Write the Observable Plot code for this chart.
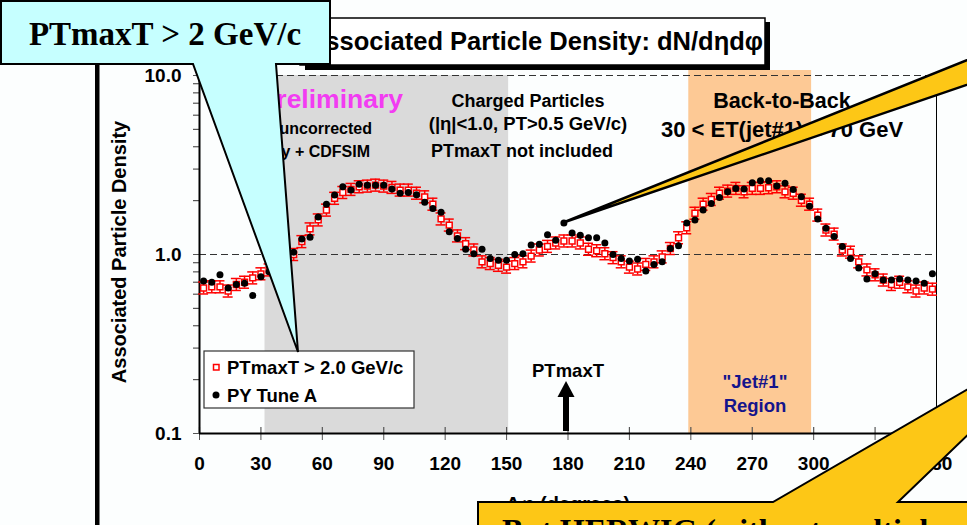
<!DOCTYPE html>
<html><head><meta charset="utf-8">
<script src="https://cdn.jsdelivr.net/npm/d3@7"></script>
<script src="https://cdn.jsdelivr.net/npm/@observablehq/plot@0.6"></script>
<style>
html,body{margin:0;padding:0;background:#fcfefe;overflow:hidden;}
#chart{position:relative;width:967px;height:525px;overflow:hidden;}
svg{display:block}
</style></head><body><div id="chart"></div>
<script>
// ---- data ----
const phi = [2,6,10,14,18,22,26,30,34,38,42,46,50,54,58,62,66,70,74,78,82,86,90,94,98,102,106,110,114,118,
  122,126,130,134,138,142,146,150,154,158,162,166,170,174,178,182,186,190,194,198,202,206,210,214,218,222,226,230,234,238,
  242,246,250,254,258,262,266,270,274,278,282,286,290,294,298,302,306,310,314,318,322,326,330,334,338,342,346,350,354,358];
const ptmaxData = [0.65,0.66,0.66,0.625,0.68,0.70,0.74,0.78,0.82,0.88,
  0.94,1.00,1.18,1.39,1.56,1.77,2.06,2.22,2.31,2.39,
  2.41,2.44,2.41,2.37,2.29,2.29,2.20,2.10,1.91,1.58,
  1.46,1.27,1.15,1.06,0.91,0.89,0.87,0.85,0.89,0.91,
  0.98,1.06,1.11,1.16,1.19,1.19,1.16,1.07,1.05,1.01,
  0.96,0.91,0.85,0.83,0.88,0.91,0.97,1.08,1.24,1.41,
  1.70,1.91,2.03,2.20,2.26,2.34,2.24,2.34,2.34,2.36,
  2.39,2.24,2.20,2.01,1.91,1.66,1.37,1.30,1.06,1.03,
  0.91,0.82,0.77,0.72,0.68,0.70,0.66,0.625,0.65,0.64];
const pyTuneA = [0.71,0.70,0.77,0.65,0.68,0.69,0.59,0.75,0.80,0.86,
  0.93,1.03,1.22,1.25,1.62,1.91,2.15,2.39,2.29,2.47,
  2.44,2.44,2.44,2.32,2.20,2.22,2.16,1.96,1.81,1.72,
  1.34,1.23,1.07,1.01,1.07,0.95,0.93,0.93,1.00,1.01,
  1.13,1.14,1.29,1.20,1.50,1.32,1.28,1.24,1.24,1.16,
  1.00,0.95,0.92,0.94,0.81,0.88,0.91,1.08,1.12,1.50,
  1.56,1.77,1.93,2.08,2.24,2.34,2.32,2.52,2.58,2.58,
  2.41,2.50,2.31,2.10,1.86,1.58,1.40,1.26,1.11,0.95,
  0.84,0.73,0.78,0.72,0.72,0.73,0.72,0.71,0.69,0.78];
const relErr = 0.08;
const xTicks = [0,30,60,90,120,150,180,210,240,270,300,330,360];
const yTicks = [0.1,1,10];
const yMinorTicks = [0.2,0.3,0.4,0.5,0.6,0.7,0.8,0.9,2,3,4,5,6,7,8,9];
const yGrid = [1,10];
const grayRegion = [32,151];
const jetRegion = [239,299];
const seriesNames = ["PTmaxT > 2.0 GeV/c","PY Tune A"];
const pointedBin = 44;   // PY Tune A point the yellow callout points to
const arrowPhi = 180;    // PTmaxT direction

const FONT = '"Liberation Sans", Arial, Helvetica, sans-serif';
const SERIF = '"Liberation Serif", "Times New Roman", serif';
const RED = "#ff0000";

const data = phi.map((p,i)=>({phi:p, a:ptmaxData[i], b:pyTuneA[i]}));

const chart = Plot.plot({
  width: 967, height: 525,
  marginLeft: 199, marginRight: 31, marginTop: 75, marginBottom: 92,
  style: {background: "transparent", fontFamily: FONT, overflow: "visible"},
  x: {domain: [0,360]},
  y: {type: "log", domain: [0.1,10]},
  marks: [
    Plot.rect([grayRegion], {x1: d=>d[0], x2: d=>d[1], y1: 0.1, y2: 10, fill: "#dadada"}),
    Plot.rect([jetRegion], {x1: d=>d[0], x2: d=>d[1], y1: 0.1, y2: 10, fill: "#fdc995", insetTop: -5}),
    Plot.ruleY(yGrid, {stroke: "#333", strokeWidth: 1, strokeDasharray: "7,4"}),
    Plot.ruleX([360], {stroke: "#000", strokeWidth: 1}),
    // minor y ticks
    Plot.ruleY(yMinorTicks, {y: d=>d, x1: 0, x2: 0, insetLeft: -6, stroke: "#555", strokeWidth: 1.2}),
    Plot.axisY({ticks: yTicks, tickFormat: d=>d.toFixed(1), tickSize: 6, tickPadding: 12, fontSize: 19, fontWeight: "bold", label: null, stroke: "#555", fill: "#000"}),
    Plot.axisX({ticks: xTicks, tickFormat: d=>String(d), tickSize: 7, tickPadding: 16, fontSize: 19, fontWeight: "bold", label: null, stroke: "#555", fill: "#000"}),
    Plot.ruleX(xTicks, {x: d=>d, y1: 0.1, y2: 0.1, insetTop: -6, stroke: "#555", strokeWidth: 1.2}),
    Plot.ruleY([0.1], {stroke: "#000", strokeWidth: 2}),
    Plot.ruleX([0], {stroke: "#000", strokeWidth: 2}),
    // error bars
    Plot.ruleX(data, {x: "phi", y1: d=>d.a/(1+relErr), y2: d=>d.a*(1+relErr), stroke: RED, strokeWidth: 1.5}),
    Plot.ruleY(data, {y: d=>d.a*(1+relErr), x1: "phi", x2: "phi", insetLeft: -5, insetRight: -5, stroke: RED, strokeWidth: 1.5}),
    Plot.ruleY(data, {y: d=>d.a/(1+relErr), x1: "phi", x2: "phi", insetLeft: -5, insetRight: -5, stroke: RED, strokeWidth: 1.5}),
    Plot.dot(data, {x: "phi", y: "a", symbol: "square", r: 3.3, stroke: RED, fill: "#fff", strokeWidth: 1.5}),
    Plot.dot(data, {x: "phi", y: "b", r: 3.5, fill: "#000", stroke: "none"})
  ]
});
document.getElementById("chart").appendChild(chart);

const xs = chart.scale("x"), ys = chart.scale("y");
const svg = d3.select(chart);
const g = svg.append("g");

function addText(parent, s, x, y, o = {}) {
  const t = parent.append("text").attr("x", x).attr("y", y).text(s)
    .attr("font-family", o.family || FONT)
    .attr("font-size", o.size || 18)
    .attr("font-weight", o.weight || "bold")
    .attr("text-anchor", o.anchor || "middle")
    .attr("fill", o.fill || "#000");
  if (o.transform) t.attr("transform", o.transform);
  return t;
}

// annotation texts in the plot
addText(g, "Preliminary", 403, 108, {size: 26.5, anchor: "end", fill: "#f23cf2"});
addText(g, "data uncorrected", 372, 134, {size: 16, anchor: "end"});
addText(g, "theory + CDFSIM", 370, 157, {size: 16, anchor: "end"});
addText(g, "Charged Particles", 528, 107, {size: 18});
addText(g, "(|η|<1.0, PT>0.5 GeV/c)", 528, 130, {size: 18.5});
addText(g, "PTmaxT not included", 522, 157, {size: 18});
addText(g, "Back-to-Back", 782, 108, {size: 21.5});
addText(g, "30 < ET(jet#1) < 70 GeV", 782, 137, {size: 22});
addText(g, "\"Jet#1\"", 755, 388, {size: 18.5, fill: "#14148c"});
addText(g, "Region", 755, 412, {size: 18.5, fill: "#14148c"});

// PTmaxT arrow
const ax = xs.apply(arrowPhi) - 1.5;
addText(g, "PTmaxT", ax + 2, 377, {size: 18.5});
g.append("rect").attr("x", ax - 3).attr("y", 396).attr("width", 6).attr("height", 35).attr("fill", "#000");
g.append("path").attr("d", `M${ax-8.5},397 L${ax+8.5},397 L${ax},381 Z`).attr("fill", "#000");

// legend
const lg = g.append("g");
lg.append("rect").attr("x", 204).attr("y", 351).attr("width", 210).attr("height", 57)
  .attr("fill", "#fff").attr("stroke", "#333").attr("stroke-width", 1.2);
lg.append("rect").attr("x", 213.5).attr("y", 364.5).attr("width", 5.5).attr("height", 5.5)
  .attr("fill", "#fff").attr("stroke", RED).attr("stroke-width", 1.5);
addText(lg, seriesNames[0], 227, 374, {size: 18.5, anchor: "start"});
lg.append("circle").attr("cx", 216).attr("cy", 395).attr("r", 3.5).attr("fill", "#000");
addText(lg, seriesNames[1], 227, 402, {size: 18.5, anchor: "start"});

// axis titles
addText(g, "Associated Particle Density", 0, 0, {size: 20, transform: "translate(126,252) rotate(-90)"});
addText(g, "Δφ (degrees)", 568, 511, {size: 20});

// title box
g.append("rect").attr("x", 305).attr("y", 22).attr("width", 465).attr("height", 48).attr("fill", "#000");
g.append("rect").attr("x", 300).attr("y", 18).attr("width", 465).attr("height", 47)
  .attr("fill", "#fff").attr("stroke", "#000").attr("stroke-width", 1.5);
addText(g, "Associated Particle Density: dN/dηdφ", 535, 50, {size: 25.5});

// slide frame line
g.append("rect").attr("x", 95).attr("y", 60).attr("width", 4.5).attr("height", 470).attr("fill", "#000");

// cyan callout
g.append("path").attr("d", "M1,1 H330 V64 H276 L298,352 L193,64 H1 Z")
  .attr("fill", "#c6ffff").attr("stroke", "#000").attr("stroke-width", 2).attr("stroke-linejoin", "miter");
addText(g, "PTmaxT > 2 GeV/c", 165, 45, {size: 33, family: SERIF});

// yellow callout pointing at a PY Tune A point
const tx = xs.apply(phi[pointedBin]), ty = ys.apply(pyTuneA[pointedBin]);
g.append("path").attr("d", `M${tx},${ty} L975,57 L975,82 Z`)
  .attr("fill", "#fdc716").attr("stroke", "#000").attr("stroke-width", 2.5).attr("stroke-linejoin", "round");

// yellow callout at the bottom
g.append("path").attr("d", "M478,502 L773,502 L975,385 L975,428 L898,502 L975,502 L975,540 L478,540 Z")
  .attr("fill", "#fdc716").attr("stroke", "#000").attr("stroke-width", 2);
addText(g, "But HERWIG (without multiple", 502, 541, {size: 32, family: SERIF, anchor: "start"});
</script>
</body></html>
